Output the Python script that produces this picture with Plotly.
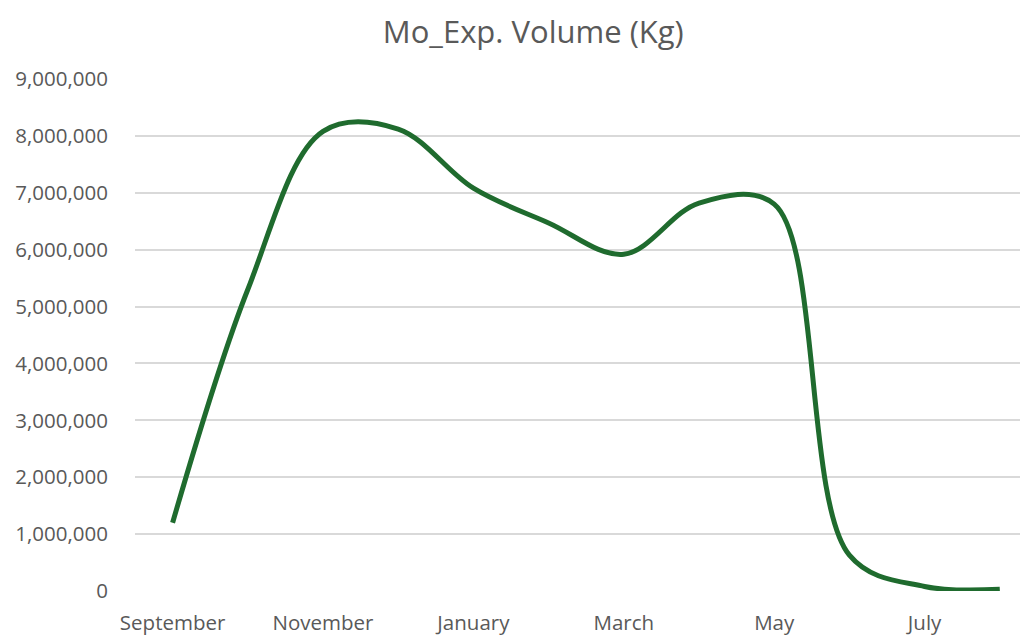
import plotly.graph_objects as go

months = ["September", "October", "November", "December", "January", "February",
          "March", "April", "May", "June", "July", "August"]
volume_kg = [1200000, 5300000, 8080000, 8120000, 7080000, 6470000,
             5920000, 6820000, 6800000, 630000, 80000, 30000]
tick_months = months[::2]
y_ticks = list(range(0, 9000001, 1000000))

fig = go.Figure()
fig.add_trace(go.Scatter(
    x=months, y=volume_kg, mode="lines",
    line=dict(color="#1F6B2E", width=5, shape="spline", smoothing=1.0),
    hoverinfo="x+y", showlegend=False,
))

font_family = "'Open Sans', Lato, sans-serif"
# page body has an 8px margin, so the figure is 8px smaller and margins compensate
fig.update_layout(
    width=1020, height=629,
    paper_bgcolor="white", plot_bgcolor="white",
    margin=dict(l=127, r=0, t=71, b=46),
    title=dict(text="Mo_Exp. Volume (Kg)", x=0.515, xanchor="center", y=0.962, yanchor="middle",
               font=dict(family=font_family, size=31, color="#595959")),
    xaxis=dict(type="category", range=[-0.5, 11.375], tickmode="array",
               tickvals=tick_months, ticktext=tick_months, showgrid=False,
               showline=False, zeroline=False, ticks="outside", ticklen=13, tickcolor="rgba(0,0,0,0)",
               tickfont=dict(family=font_family, size=20.5, color="#595959"), automargin=False),
    yaxis=dict(range=[0, 9000000], tickmode="array", tickvals=y_ticks,
               ticktext=[f"{v:,}" for v in y_ticks], showgrid=True, gridcolor="#D9D9D9",
               gridwidth=1.5, zeroline=False, showline=False, ticks="outside", ticklen=22,
               tickcolor="rgba(0,0,0,0)",
               tickfont=dict(family=font_family, size=20.5, color="#595959"), automargin=False),
)

fig.write_html("out.html")
